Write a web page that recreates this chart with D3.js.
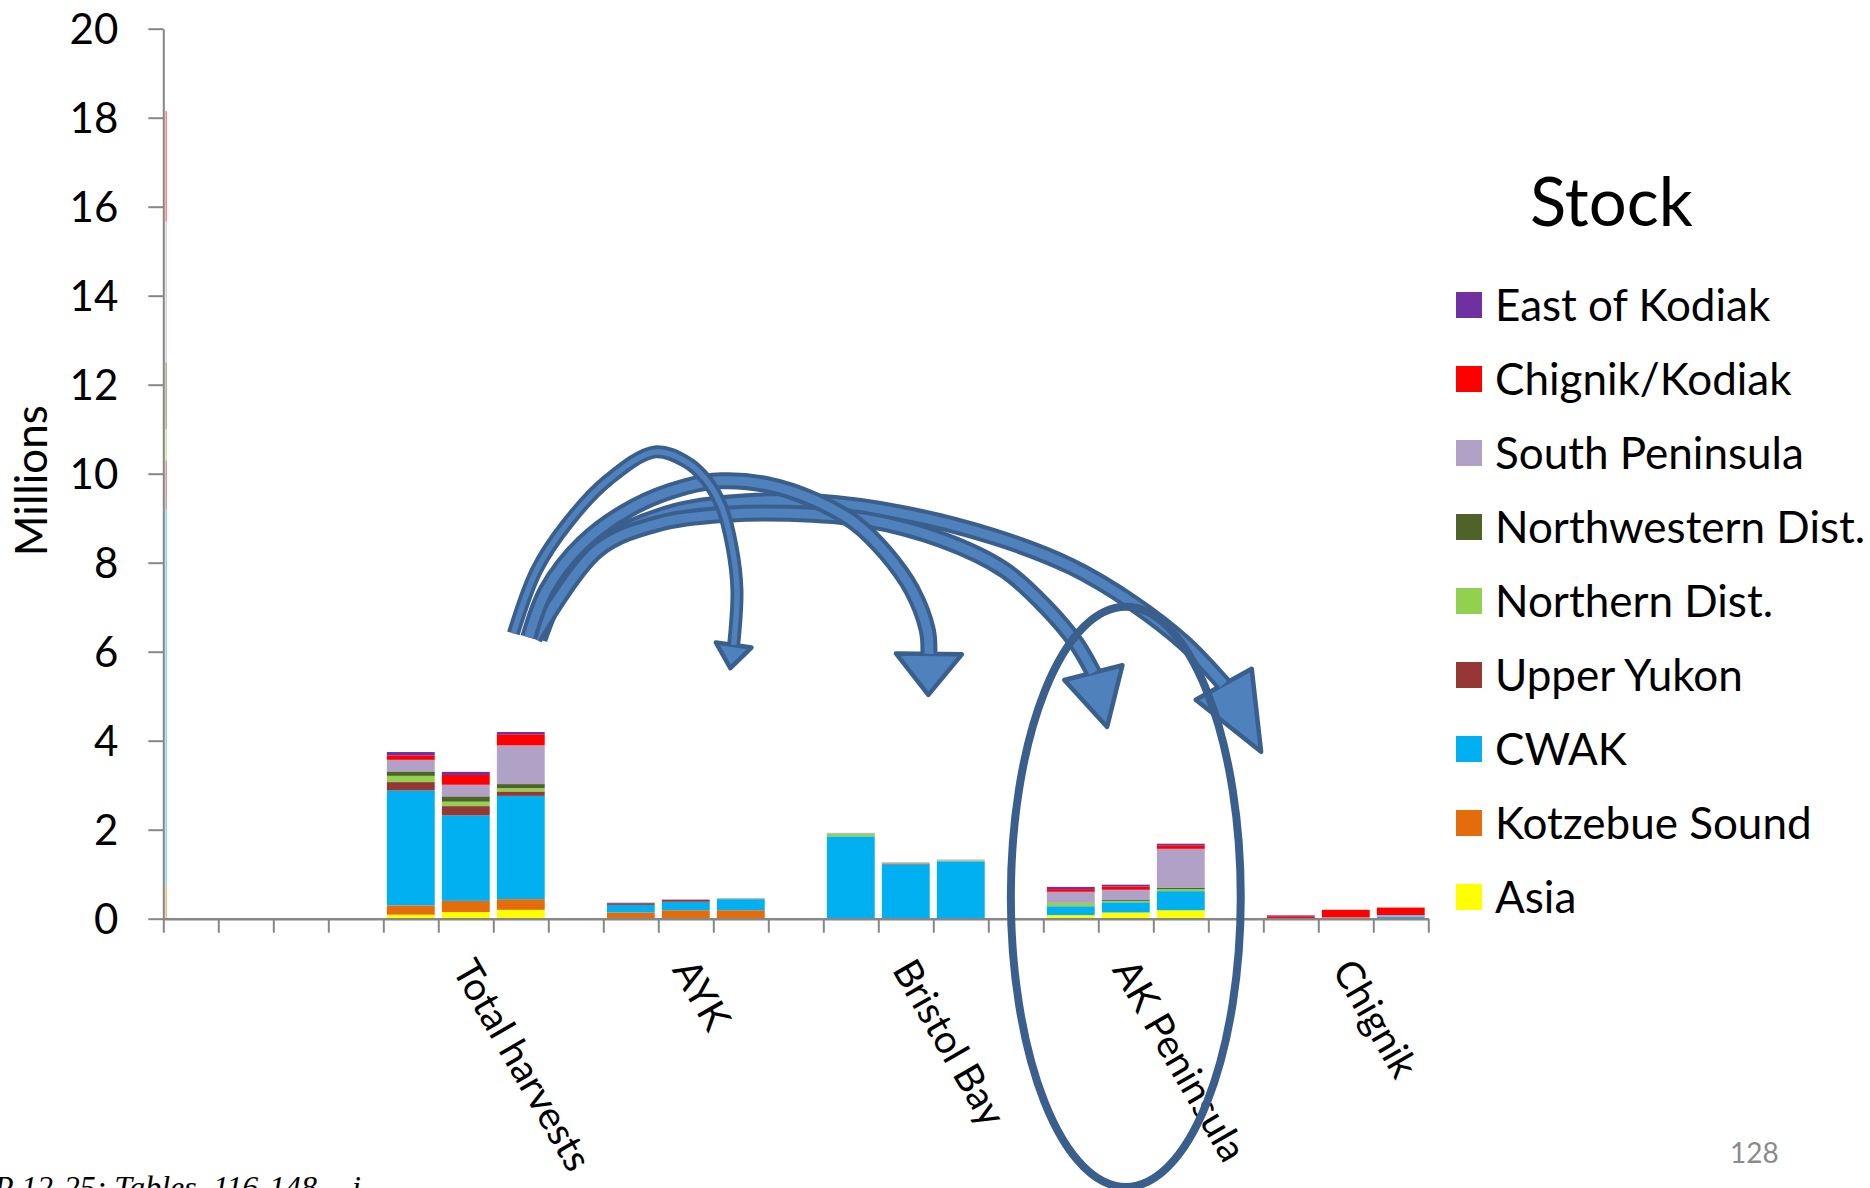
<!DOCTYPE html>
<html><head><meta charset="utf-8">
<script src="https://cdn.jsdelivr.net/npm/d3@7"></script>
<style>html,body{margin:0;padding:0;background:#fff;} svg{display:block;}</style>
</head><body>
<script>
// ---------- DATA ----------
const slotCount = 23;                       // category slots on the x axis
const groupLabels = ["Total harvests", "AYK", "Bristol Bay", "AK Peninsula", "Chignik"];
const groupStartSlots = [4, 8, 12, 16, 20];
const barsPerGroup = 3;
const yTicks = [0, 2, 4, 6, 8, 10, 12, 14, 16, 18, 20];
const seriesNames = ["Asia", "Kotzebue Sound", "CWAK", "Upper Yukon", "Northern Dist.",
  "Northwestern Dist.", "South Peninsula", "Chignik/Kodiak", "East of Kodiak"];
const seriesColors = ["#FFFF00", "#E46C0A", "#00B0F0", "#953735", "#92D050",
  "#4F6228", "#B2A1C7", "#FF0000", "#7030A0"];
// values in millions, 15 bars (5 groups x 3 bars)
const asia          = [0.09, 0.15, 0.20,  0,     0,     0,     0,    0,    0,     0.08,  0.14,  0.19,  0,    0,    0];
const kotzebue      = [0.21, 0.25, 0.24,  0.14,  0.19,  0.19,  0,    0,    0,     0,     0,     0,     0,    0,    0];
const cwak          = [2.58, 1.92, 2.32,  0.17,  0.19,  0.25,  1.85, 1.22, 1.29,  0.20,  0.23,  0.43,  0,    0,    0.05];
const upperYukon    = [0.19, 0.21, 0.10,  0.04,  0.045, 0,     0,    0.02, 0,     0,     0,     0,     0,    0.02, 0];
const northern      = [0.14, 0.10, 0.075, 0,     0,     0,     0.06, 0.02, 0.02,  0.075, 0.03,  0.045, 0,    0,    0];
const northwestern  = [0.10, 0.12, 0.09,  0,     0,     0,     0,    0,    0,     0,     0.02,  0.035, 0,    0,    0];
const southPen      = [0.26, 0.26, 0.87,  0.015, 0.015, 0.02,  0.02, 0.01, 0.02,  0.25,  0.23,  0.87,  0.01, 0.01, 0.03];
const chignikKodiak = [0.10, 0.22, 0.25,  0,     0,     0,     0,    0,    0,     0.06,  0.075, 0.08,  0.045,0.17, 0.17];
const eastKodiak    = [0.075,0.07, 0.05,  0,     0,     0,     0,    0,    0,     0.05,  0.04,  0.035, 0.02, 0,    0];
const seriesValues = [asia, kotzebue, cwak, upperYukon, northern, northwestern, southPen, chignikKodiak, eastKodiak];
// faint sliver visible beside the value axis (slot 0), same stacking order
const sliverValues = [0, 0.75, 8.45, 1.1, 0.7, 1.5, 3.17, 2.48, 0];
// annotation arrows, in (slot, millions) units
const arrows = [
  {pts: [[6.365,6.41],[6.79,7.84],[7.35,8.89],[8.09,9.86],[8.94,10.49],[9.50,10.27],[9.87,9.86],[10.15,9.26],[10.34,8.36],[10.43,7.39],[10.37,6.15]],
   tip: [10.31,5.63], half: 18, outer: 13, inner: 5.5},
  {pts: [[6.645,6.32],[6.97,7.39],[7.63,8.44],[8.56,9.26],[9.50,9.71],[10.15,9.84],[10.99,9.75],[11.83,9.41],[12.58,8.89],[13.14,8.21],[13.61,7.39],[13.89,6.49],[13.92,5.95]],
   tip: [13.91,5.03], half: 33, outer: 17, inner: 9},
  {pts: [[6.74,6.30],[7.90,8.29],[9.03,8.89],[10.25,9.09],[11.37,9.11],[12.77,8.97],[14.17,8.51],[15.29,7.84],[16.04,7.01],[16.60,6.19],[16.91,5.53]],
   tip: [17.16,4.31], half: 30, outer: 17, inner: 9},
  {pts: [[6.83,6.28],[7.25,7.46],[8.09,8.51],[9.31,9.15],[10.62,9.37],[11.83,9.37],[13.42,9.11],[15.11,8.58],[16.51,7.91],[17.63,7.09],[18.57,6.19],[19.28,5.27]],
   tip: [19.96,3.75], half: 32, outer: 17, inner: 9}
];
const highlight = {slot: 17.5, value: 0.49, rxSlots: 2.09, ryValue: 6.52};
const pageNumber = "128";
const sourceNote = "P 12-25; Tables  116-148";

// ---------- LAYOUT ----------
const W = 1870, H = 1188;
const plotLeft = 163.3, plotRight = 1428.3, plotTop = 28.7, plotBottom = 918.7;
const FONT = "Lato, 'Open Sans', sans-serif";

const svg = d3.select("body").append("svg").attr("width", W).attr("height", H);
svg.append("rect").attr("width", W).attr("height", H).attr("fill", "#fff");

const x = d3.scaleBand().domain(d3.range(slotCount)).range([plotLeft, plotRight])
  .paddingInner(0.13).paddingOuter(0.065);
const xs = d3.scaleLinear().domain([0, slotCount]).range([plotLeft, plotRight]);
const y = d3.scaleLinear().domain([0, 20]).range([plotBottom, plotTop]);

// bars
const bars = [];
groupStartSlots.forEach((s, g) => {
  for (let b = 0; b < barsPerGroup; b++) {
    const i = g * barsPerGroup + b;
    const row = {slot: s + b};
    seriesNames.forEach((n, k) => row[n] = seriesValues[k][i]);
    bars.push(row);
  }
});
const stacked = d3.stack().keys(seriesNames)(bars);
const gBars = svg.append("g");
stacked.forEach((layer, k) => {
  gBars.selectAll(null).data(layer.filter(d => d[1] - d[0] > 0)).enter().append("rect")
    .attr("x", d => x(d.data.slot))
    .attr("width", x.bandwidth())
    .attr("y", d => y(d[1]))
    .attr("height", d => y(d[0]) - y(d[1]))
    .attr("fill", seriesColors[k]);
});

// sliver next to axis
const sliverRow = {slot: 0};
seriesNames.forEach((n, k) => sliverRow[n] = sliverValues[k]);
const sliverStack = d3.stack().keys(seriesNames)([sliverRow]);
sliverStack.forEach((layer, k) => {
  const d = layer[0];
  if (d[1] - d[0] <= 0) return;
  svg.append("rect").attr("x", xs(0) + 2.2).attr("width", 1.3)
    .attr("y", y(d[1])).attr("height", y(d[0]) - y(d[1]))
    .attr("fill", seriesColors[k]).attr("opacity", 0.6);
});

// y axis
const yAxis = svg.append("g").attr("transform", `translate(${plotLeft},0)`)
  .call(d3.axisLeft(y).tickValues(yTicks).tickSize(15).tickSizeOuter(0).tickPadding(30));
yAxis.select(".domain").attr("stroke", "#868686").attr("stroke-width", 2);
yAxis.selectAll(".tick line").attr("stroke", "#868686").attr("stroke-width", 2);
yAxis.selectAll(".tick text").attr("font-family", FONT).attr("font-size", 42)
  .attr("fill", "#000").attr("dy", "0.36em");

// x axis
const xAxis = svg.append("g").attr("transform", `translate(0,${plotBottom})`)
  .call(d3.axisBottom(xs).tickValues(d3.range(slotCount + 1)).tickFormat("").tickSize(14).tickSizeOuter(0));
xAxis.select(".domain").attr("stroke", "#868686").attr("stroke-width", 2.5);
xAxis.selectAll(".tick line").attr("stroke", "#868686").attr("stroke-width", 2);

// category labels
groupLabels.forEach((lab, g) => {
  const cx = x(groupStartSlots[g] + 1) + x.bandwidth() / 2;
  svg.append("text")
    .attr("transform", `translate(${cx + 10},${plotBottom + 37}) rotate(60)`)
    .attr("dy", "0.72em")
    .attr("font-family", FONT).attr("font-size", 39).attr("fill", "#000")
    .text(lab);
});

// y title
svg.append("text")
  .attr("transform", `translate(47,${(plotTop + plotBottom) / 2 + 7}) rotate(-90)`)
  .attr("text-anchor", "middle")
  .attr("font-family", FONT).attr("font-size", 44).attr("fill", "#000")
  .text("Millions");

// legend
svg.append("text").attr("x", 1530).attr("y", 226)
  .attr("font-family", FONT).attr("font-size", 67).attr("fill", "#000").text("Stock");
const legendOrder = d3.range(seriesNames.length).reverse();
legendOrder.forEach((k, j) => {
  const cy = 305 + j * 74;
  svg.append("rect").attr("x", 1456).attr("y", cy - 13).attr("width", 26).attr("height", 26)
    .attr("fill", seriesColors[k]);
  svg.append("text").attr("x", 1495).attr("y", cy + 16)
    .attr("font-family", FONT).attr("font-size", 44).attr("fill", "#000")
    .text(seriesNames[k]);
});

// arrows
const FILL = "#4F81BD", EDGE = "#3A5F8C";
const line = d3.line().x(d => xs(d[0])).y(d => y(d[1])).curve(d3.curveCatmullRom.alpha(0.5));
const gArr = svg.append("g");
arrows.slice().reverse().forEach(a => {
  const g = gArr.append("g");
  const base = a.pts[a.pts.length - 1];
  const bx = xs(base[0]), by = y(base[1]);
  const tx = xs(a.tip[0]), ty = y(a.tip[1]);
  const len = Math.hypot(tx - bx, ty - by);
  const dx = (tx - bx) / len, dy = (ty - by) / len;
  const nx = -dy, ny = dx;
  g.append("path").attr("d", line(a.pts)).attr("fill", "none")
    .attr("stroke", EDGE).attr("stroke-width", a.outer).attr("stroke-linecap", "butt");
  g.append("path").attr("d", `M${bx + nx * a.half},${by + ny * a.half}L${tx},${ty}L${bx - nx * a.half},${by - ny * a.half}Z`)
    .attr("fill", FILL).attr("stroke", EDGE).attr("stroke-width", 4.5).attr("stroke-linejoin", "round");
  g.append("path").attr("d", line(a.pts)).attr("fill", "none")
    .attr("stroke", FILL).attr("stroke-width", a.inner).attr("stroke-linecap", "butt");
});

// ellipse highlight
svg.append("ellipse")
  .attr("cx", xs(highlight.slot)).attr("cy", y(highlight.value))
  .attr("rx", xs(highlight.rxSlots) - xs(0)).attr("ry", y(0) - y(highlight.ryValue))
  .attr("fill", "none").attr("stroke", EDGE).attr("stroke-width", 8);

// page number
svg.append("text").attr("x", 1730).attr("y", 1163)
  .attr("font-family", FONT).attr("font-size", 28).attr("fill", "#8B8B8B").text(pageNumber);

// clipped source note (cut by the bottom edge, as in the original slide)
svg.append("text").attr("x", -6).attr("y", 1198)
  .attr("font-family", "'Liberation Serif', 'DejaVu Serif', serif").attr("font-style", "italic")
  .attr("font-size", 32).attr("fill", "#000").style("white-space", "pre").text(sourceNote);
svg.append("text").attr("x", 352).attr("y", 1198)
  .attr("font-family", "'Liberation Serif', 'DejaVu Serif', serif").attr("font-style", "italic")
  .attr("font-size", 32).attr("fill", "#000").text("i");
</script>
</body></html>
